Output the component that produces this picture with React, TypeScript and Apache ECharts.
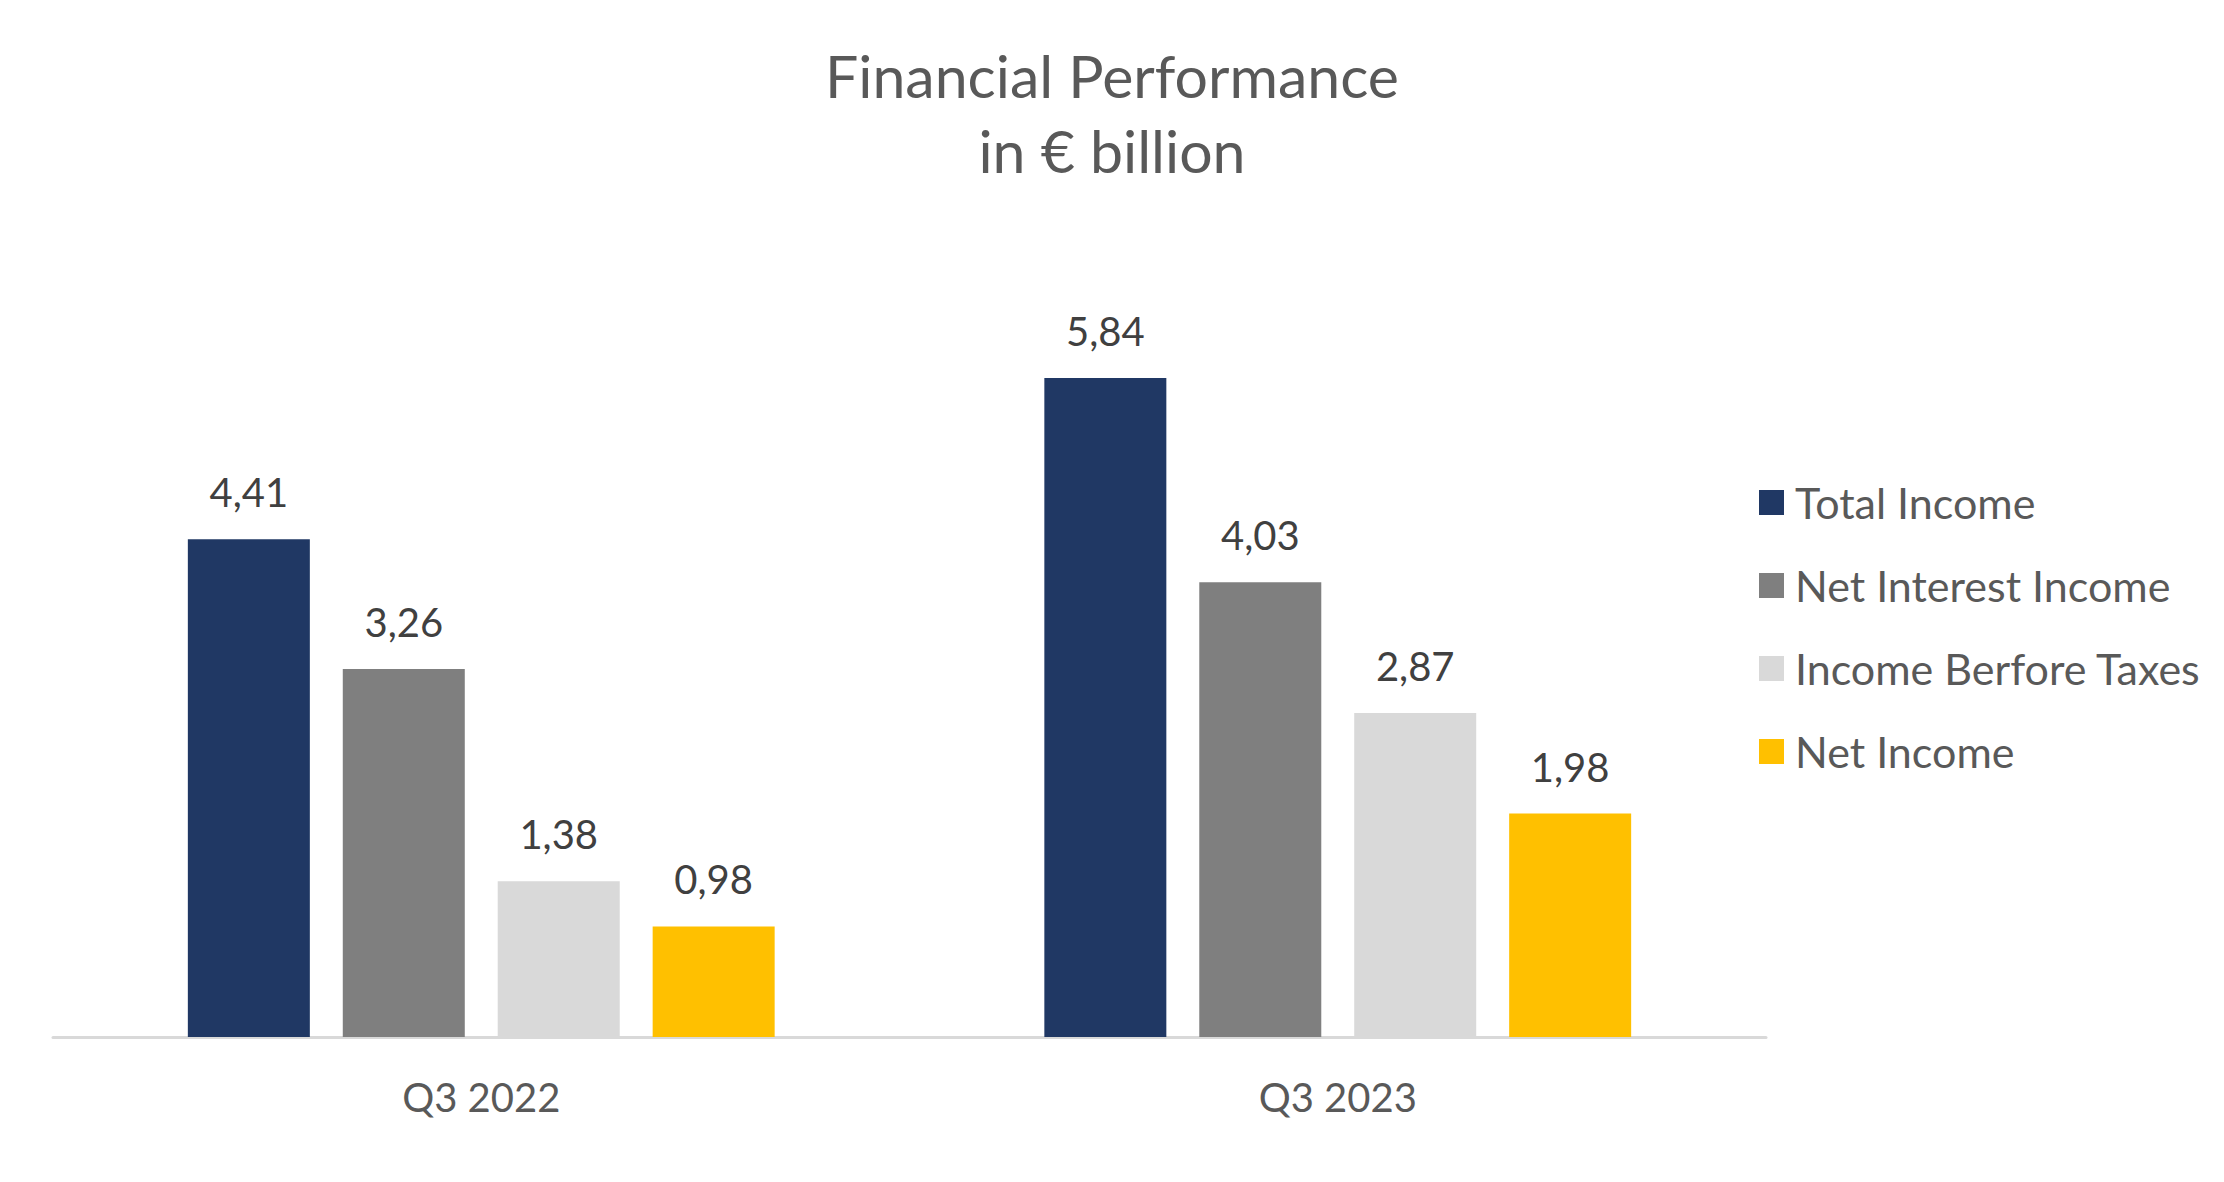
import React, { useEffect, useRef } from "react";
import * as echarts from "echarts";

const categories = ["Q3 2022", "Q3 2023"];
const seriesNames = ["Total Income", "Net Interest Income", "Income Berfore Taxes", "Net Income"];
const totalIncome = [4.41, 5.84];
const netInterestIncome = [3.26, 4.03];
const incomeBeforeTaxes = [1.38, 2.87];
const netIncome = [0.98, 1.98];
const colors = ["#203864", "#7F7F7F", "#D9D9D9", "#FFC000"];

export default function App() {
  const ref = useRef<HTMLDivElement>(null);
  useEffect(() => {
    document.body.style.margin = "0";
    const chart = echarts.init(ref.current!, null, { renderer: "svg" });
    const data = [totalIncome, netInterestIncome, incomeBeforeTaxes, netIncome];
    const font = "Lato";
    chart.setOption({
      animation: false,
      backgroundColor: "#ffffff",
      title: {
        text: "Financial Performance\nin € billion",
        left: "center",
        top: 33,
        textStyle: {
          fontFamily: font,
          fontSize: 59,
          fontWeight: "normal",
          color: "#595959",
          lineHeight: 75,
          align: "center",
        },
      },
      legend: {
        orient: "vertical",
        left: 1759,
        top: 481,
        padding: 0,
        itemWidth: 25,
        itemHeight: 25,
        itemGap: 40,
        icon: "rect",
        data: seriesNames,
        textStyle: {
          fontFamily: font,
          fontSize: 43,
          color: "#595959",
          padding: [0, 0, 0, 6],
        },
      },
      grid: { left: 53, right: 458, top: 247, bottom: 145, containLabel: false },
      xAxis: {
        type: "category",
        data: categories,
        axisTick: { show: false },
        axisLine: { lineStyle: { color: "#D9D9D9", width: 3 } },
        axisLabel: { margin: 40, fontFamily: font, fontSize: 40, color: "#595959" },
      },
      yAxis: { type: "value", min: 0, max: 7, show: false, splitLine: { show: false } },
      series: seriesNames.map((name, i) => ({
        name,
        type: "bar",
        data: data[i],
        barWidth: 122,
        barGap: "27%",
        itemStyle: { color: colors[i] },
        label: {
          show: true,
          position: "top",
          distance: 27,
          fontFamily: font,
          fontSize: 40,
          color: "#404040",
          formatter: (p: any) => Number(p.value).toFixed(2).replace(".", ","),
        },
      })),
    });
    return () => chart.dispose();
  }, []);
  return <div ref={ref} style={{ width: 2224, height: 1182 }} />;
}
